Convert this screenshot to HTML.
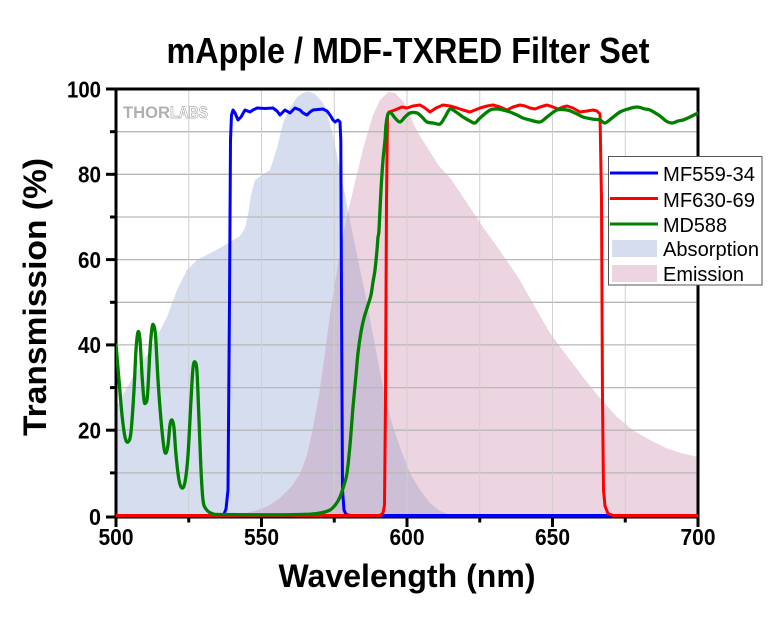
<!DOCTYPE html>
<html>
<head>
<meta charset="utf-8">
<style>
html,body{margin:0;padding:0;background:#fff;}
svg{display:block;}
text{font-family:"Liberation Sans",Arial,sans-serif;}
</style>
</head>
<body>
<svg width="780" height="630" viewBox="0 0 780 630" xmlns="http://www.w3.org/2000/svg">
<defs>
<clipPath id="absClip">
<path d="M116,517 L116,407 L133,377 L150,350 L167,317 L177,290 L187,270 L197,260 L220,248 L240,236 L245,228 L248,215 L251,195 L255,180 L262,175 L270,170 L277,148 L283,123 L290,108 L297,97 L303,93 L308,91.5 L315,94 L323,103 L327,113 L333,135 L340,170 L348,210 L357,255 L365,293 L375,345 L385,398 L393,427 L401,450 L410,473 L420,490 L430,503 L440,511 L450,515 L462,517 Z"/>
</clipPath>
<clipPath id="plot"><rect x="116" y="89" width="582" height="430"/></clipPath>
</defs>

<!-- Title -->
<text x="408" y="63" font-size="36" font-weight="bold" text-anchor="middle" textLength="483" lengthAdjust="spacingAndGlyphs">mApple / MDF-TXRED Filter Set</text>

<!-- Fills -->
<path fill="#d6ddee" d="M116,517 L116,407 L133,377 L150,350 L167,317 L177,290 L187,270 L197,260 L220,248 L240,236 L245,228 L248,215 L251,195 L255,180 L262,175 L270,170 L277,148 L283,123 L290,108 L297,97 L303,93 L308,91.5 L315,94 L323,103 L327,113 L333,135 L340,170 L348,210 L357,255 L365,293 L375,345 L385,398 L393,427 L401,450 L410,473 L420,490 L430,503 L440,511 L450,515 L462,517 Z"/>
<path fill="#ecd5e0" d="M116,517 L116,516 L225,516 L240,514 L255,511 L268,506 L280,498 L291,487 L300,474 L307,455 L313,428 L319,395 L324,360 L330,315 L337,270 L345,225 L355,182 L364,145 L373,115 L380,100 L388,92 L395,93 L402,100 L407,107 L414,125 L420,136 L427,147 L439,166 L451,179 L465,200 L483,227 L500,251 L518,277 L535,307 L550,333 L567,356 L583,377 L599,397 L617,417 L634,431 L650,440 L666,448 L681,453 L698,457 L698,517 Z"/>
<path clip-path="url(#absClip)" fill="#cdbfd6" d="M116,517 L116,516 L225,516 L240,514 L255,511 L268,506 L280,498 L291,487 L300,474 L307,455 L313,428 L319,395 L324,360 L330,315 L337,270 L345,225 L355,182 L364,145 L373,115 L380,100 L388,92 L395,93 L402,100 L407,107 L414,125 L420,136 L427,147 L439,166 L451,179 L465,200 L483,227 L500,251 L518,277 L535,307 L550,333 L567,356 L583,377 L599,397 L617,417 L634,431 L650,440 L666,448 L681,453 L698,457 L698,517 Z"/>

<!-- Grid -->
<g stroke="#b8b8b8" stroke-width="1.3">
<line x1="116" x2="698" y1="472.9" y2="472.9"/>
<line x1="116" x2="698" y1="430.2" y2="430.2"/>
<line x1="116" x2="698" y1="387.6" y2="387.6"/>
<line x1="116" x2="698" y1="344.9" y2="344.9"/>
<line x1="116" x2="698" y1="302.3" y2="302.3"/>
<line x1="116" x2="698" y1="259.6" y2="259.6"/>
<line x1="116" x2="698" y1="217" y2="217"/>
<line x1="116" x2="698" y1="174.3" y2="174.3"/>
<line x1="116" x2="698" y1="131.7" y2="131.7"/>
</g>
<g stroke="#cfcfcf" stroke-width="1">
<line y1="89" y2="517" x1="188.75" x2="188.75"/>
<line y1="89" y2="517" x1="261.5" x2="261.5"/>
<line y1="89" y2="517" x1="334.25" x2="334.25"/>
<line y1="89" y2="517" x1="407" x2="407"/>
<line y1="89" y2="517" x1="479.75" x2="479.75"/>
<line y1="89" y2="517" x1="552.5" x2="552.5"/>
<line y1="89" y2="517" x1="625.25" x2="625.25"/>
</g>

<!-- Frame -->
<rect x="116" y="89" width="582" height="428" fill="none" stroke="#000" stroke-width="3"/>

<!-- Ticks -->
<g stroke="#000" stroke-width="3">
<line x1="106" x2="116" y1="517" y2="517"/>
<line x1="106" x2="116" y1="430.2" y2="430.2"/>
<line x1="106" x2="116" y1="344.9" y2="344.9"/>
<line x1="106" x2="116" y1="259.6" y2="259.6"/>
<line x1="106" x2="116" y1="174.3" y2="174.3"/>
<line x1="106" x2="116" y1="89" y2="89"/>
<line x1="110" x2="116" y1="472.9" y2="472.9"/>
<line x1="110" x2="116" y1="387.6" y2="387.6"/>
<line x1="110" x2="116" y1="302.3" y2="302.3"/>
<line x1="110" x2="116" y1="217" y2="217"/>
<line x1="110" x2="116" y1="131.7" y2="131.7"/>
<line y1="517" y2="527" x1="116" x2="116"/>
<line y1="517" y2="527" x1="261.5" x2="261.5"/>
<line y1="517" y2="527" x1="407" x2="407"/>
<line y1="517" y2="527" x1="552.5" x2="552.5"/>
<line y1="517" y2="527" x1="698" x2="698"/>
<line y1="517" y2="522.5" x1="188.75" x2="188.75"/>
<line y1="517" y2="522.5" x1="334.25" x2="334.25"/>
<line y1="517" y2="522.5" x1="479.75" x2="479.75"/>
<line y1="517" y2="522.5" x1="625.25" x2="625.25"/>
</g>

<!-- THORLABS logo -->
<text x="123" y="118" font-size="17" font-weight="bold" fill="#b0b0b0" textLength="47" lengthAdjust="spacingAndGlyphs">THOR</text>
<text x="170" y="118" font-size="17" font-weight="bold" fill="#ffffff" stroke="#b0b0b0" stroke-width="0.8" textLength="38" lengthAdjust="spacingAndGlyphs">LABS</text>

<!-- Curves -->
<g fill="none" stroke-width="3" stroke-linejoin="round" stroke-linecap="round" clip-path="url(#plot)">
<polyline stroke="#0000ff" points="116,515.5 220,515.5 224,514 226,509 228,490 229.5,300 230.5,140 231.5,115 233,110 235,113 238,120 241,117 245,110 250,112 253,110 257,108 265,108.5 273,108 277,111 280,115 283,112 285,110 290,113 295,108 300,110 303,113 307,115 310,112 313,110 318,109.5 323,109 327,111 330,115 333,120 335,122 338,120 340,122 340.8,140 341.5,300 342.5,490 344,510 346,514.5 350,515.5 698,515.5"/>
<polyline stroke="#ff0000" points="116,515.5 380,515.5 383,513 384.5,505 385.5,400 386.5,200 387.5,115 389,112 395,110 402,107 407,108 413,106 420,105 425,108 430,112 436,108 443,105 450,106 457,108 463,110 470,112 475,110 480,108 487,106 493,105 500,107 507,110 513,107 520,105 525,106 530,108 535,109 540,107 547,105 553,107 558,109 563,107 567,106 573,108 580,112 587,111 593,110 597,111 600,114 601.5,200 602.5,400 603.5,490 605,506 608,513.5 613,515.5 698,515.5"/>
<polyline id="green" stroke="#008000" stroke-width="3.3" points="116,345 119,380 122,415 125,437 128,442 131,432 134,390 136,350 138,332 140,340 142,375 144,400 145.5,403 147.5,395 150,350 152,328 153.5,325 155.5,335 158,380 161,420 164,448 166,453 168,445 170,425 172,420 174,428 176,455 179,480 182,488 185,482 188,455 191,400 193,368 195,362 197,372 199,420 201,470 203,500 206,509 212,513.5 225,514.5 300,514.5 320,513 330,510 336,504 340,497 344,485 347,473 350,445 353,407 356,375 358,353 361,332 364,318 368,305 371,295 373,282 375,270 377,250 378,237 379,230 381,190 383,160 385,140 386,125 388,114 391,113 395,118 400,122 405,117 410,113 417,113 422,117 427,122 433,123 440,124 445,117 450,109 456,112 463,117 470,121 475,123 480,118 490,110 497,109 503,110 510,112 517,115 523,118 530,120 540,122 547,117 557,110 567,110 575,113 583,117 592,119 600,120 605,123 612,118 620,112 628,109 637,107 645,109 650,110 660,116 666,121 672,123 678,121 683,120 690,117 698,113"/>
</g>

<!-- Legend -->
<rect x="608.5" y="156.5" width="153.5" height="128.5" fill="#fff" stroke="#555" stroke-width="1"/>
<line x1="610" x2="658" y1="173" y2="173" stroke="#0000ff" stroke-width="3"/>
<line x1="610" x2="658" y1="198.5" y2="198.5" stroke="#ff0000" stroke-width="3"/>
<line x1="610" x2="658" y1="224" y2="224" stroke="#008000" stroke-width="3"/>
<rect x="612" y="240" width="45" height="17" fill="#d6ddee"/>
<rect x="612" y="265" width="45" height="17" fill="#ecd5e0"/>
<g font-size="20" fill="#000">
<text x="663" y="181" textLength="92" lengthAdjust="spacingAndGlyphs">MF559-34</text>
<text x="663" y="207" textLength="92" lengthAdjust="spacingAndGlyphs">MF630-69</text>
<text x="663" y="232" textLength="64" lengthAdjust="spacingAndGlyphs">MD588</text>
<text x="663" y="256" textLength="96" lengthAdjust="spacingAndGlyphs">Absorption</text>
<text x="663" y="281" textLength="81" lengthAdjust="spacingAndGlyphs">Emission</text>
</g>

<!-- Y tick labels -->
<g font-size="23" font-weight="bold" text-anchor="end">
<text x="101" y="525" textLength="12" lengthAdjust="spacingAndGlyphs">0</text>
<text x="101" y="438.5" textLength="23" lengthAdjust="spacingAndGlyphs">20</text>
<text x="101" y="353" textLength="23" lengthAdjust="spacingAndGlyphs">40</text>
<text x="101" y="268" textLength="23" lengthAdjust="spacingAndGlyphs">60</text>
<text x="101" y="182.5" textLength="23" lengthAdjust="spacingAndGlyphs">80</text>
<text x="101" y="97.5" textLength="34" lengthAdjust="spacingAndGlyphs">100</text>
</g>

<!-- X tick labels -->
<g font-size="23" font-weight="bold" text-anchor="middle">
<text x="116" y="545" textLength="35" lengthAdjust="spacingAndGlyphs">500</text>
<text x="261.5" y="545" textLength="35" lengthAdjust="spacingAndGlyphs">550</text>
<text x="407" y="545" textLength="35" lengthAdjust="spacingAndGlyphs">600</text>
<text x="552.5" y="545" textLength="35" lengthAdjust="spacingAndGlyphs">650</text>
<text x="698" y="545" textLength="35" lengthAdjust="spacingAndGlyphs">700</text>
</g>

<!-- Axis titles -->
<text x="407" y="587" font-size="32" font-weight="bold" text-anchor="middle" textLength="257" lengthAdjust="spacingAndGlyphs">Wavelength (nm)</text>
<text transform="translate(46,297) rotate(-90)" x="0" y="0" font-size="32" font-weight="bold" text-anchor="middle" textLength="278" lengthAdjust="spacingAndGlyphs">Transmission (%)</text>
</svg>
<script>
(function(){
  try{
    var pl=document.getElementById('green');
    if(!pl) return;
    var raw=pl.getAttribute('points').trim().split(/\s+/).map(function(s){var a=s.split(',');return [parseFloat(a[0]),parseFloat(a[1])];});
    var n=raw.length, d='M'+raw[0][0]+','+raw[0][1];
    for(var i=0;i<n-1;i++){
      var p0=raw[i-1]||raw[i], p1=raw[i], p2=raw[i+1], p3=raw[i+2]||raw[i+1];
      var k=1/6;
      var c1x=p1[0]+(p2[0]-p0[0])*k, c1y=p1[1]+(p2[1]-p0[1])*k;
      var c2x=p2[0]-(p3[0]-p1[0])*k, c2y=p2[1]-(p3[1]-p1[1])*k;
      d+=' C'+c1x.toFixed(2)+','+c1y.toFixed(2)+' '+c2x.toFixed(2)+','+c2y.toFixed(2)+' '+p2[0]+','+p2[1];
    }
    var ns='http://www.w3.org/2000/svg';
    var p=document.createElementNS(ns,'path');
    p.setAttribute('d',d);
    p.setAttribute('stroke','#008000');
    p.setAttribute('stroke-width','3.3');
    p.setAttribute('fill','none');
    p.setAttribute('stroke-linejoin','round');
    p.setAttribute('stroke-linecap','round');
    pl.parentNode.replaceChild(p,pl);
  }catch(e){}
})();
</script>
</body>
</html>
